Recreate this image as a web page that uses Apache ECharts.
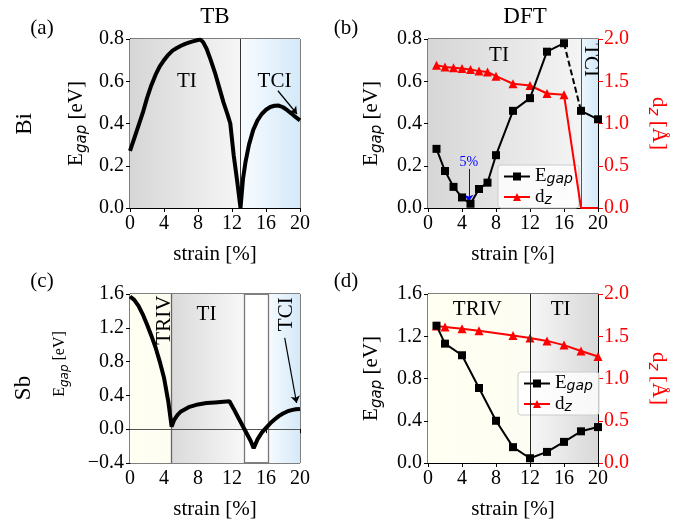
<!DOCTYPE html>
<html>
<head>
<meta charset="utf-8">
<script src="https://cdn.jsdelivr.net/npm/echarts@6/dist/echarts.min.js"></script>
<style>
  html, body { margin: 0; padding: 0; background: #fff; }
  #main { width: 692px; height: 526px; }
</style>
</head>
<body>
<div id="main"></div>
<script>
// (a) tight-binding gap, Bi
const strainTBBi = [0, 0.5, 1, 1.5, 2, 2.5, 3, 3.5, 4, 4.5, 5, 5.5, 6, 6.5, 7, 7.5, 8, 8.3, 8.6, 9, 9.5, 10, 10.5, 11, 11.5, 11.8, 12.2, 12.6, 13, 13.3, 13.6, 14, 14.5, 15, 15.5, 16, 16.5, 17, 17.5, 18, 18.5, 19, 19.5, 20]
const gapTBBi = [0.27, 0.33, 0.39, 0.45, 0.52, 0.58, 0.63, 0.67, 0.70, 0.725, 0.745, 0.757, 0.768, 0.777, 0.784, 0.79, 0.795, 0.797, 0.785, 0.755, 0.70, 0.64, 0.57, 0.50, 0.44, 0.40, 0.25, 0.13, 0.0, 0.14, 0.22, 0.30, 0.37, 0.415, 0.445, 0.465, 0.478, 0.484, 0.485, 0.477, 0.463, 0.447, 0.43, 0.415]

// (b) DFT, Bi
const strainDFTBi = [1, 2, 3, 4, 5, 6, 7, 8, 10, 12, 14, 16, 18, 20]
const gapDFTBi = [0.28, 0.175, 0.10, 0.05, 0.02, 0.09, 0.12, 0.25, 0.46, 0.52, 0.74, 0.78, 0.46, 0.42]
const dzDFTBi = [1.69, 1.67, 1.66, 1.65, 1.64, 1.62, 1.61, 1.56, 1.47, 1.45, 1.355, 1.34, 0, 0]

// (c) tight-binding gap, Sb
const strainTBSb = [0, 0.5, 1, 1.5, 2, 2.5, 3, 3.5, 4, 4.5, 4.9, 5.2, 5.6, 6, 7, 8, 9, 10, 11, 11.7, 12.2, 12.7, 13.2, 13.7, 14.2, 14.55, 15, 15.5, 16, 16.5, 17, 17.5, 18, 18.5, 19, 19.5, 20]
const gapTBSb = [1.57, 1.53, 1.46, 1.36, 1.24, 1.11, 0.97, 0.80, 0.61, 0.33, 0.03, 0.11, 0.17, 0.21, 0.265, 0.293, 0.309, 0.317, 0.325, 0.33, 0.24, 0.145, 0.05, -0.045, -0.14, -0.225, -0.12, -0.04, 0.016, 0.07, 0.115, 0.155, 0.186, 0.21, 0.226, 0.236, 0.24]

// (d) DFT, Sb
const strainDFTSb = [1, 2, 4, 6, 8, 10, 12, 14, 16, 18, 20]
const gapDFTSb = [1.30, 1.13, 1.02, 0.71, 0.40, 0.15, 0.045, 0.105, 0.20, 0.30, 0.34]
const strainDzSb = [1, 2, 4, 6, 10, 12, 14, 16, 18, 20]
const dzDFTSb = [1.62, 1.61, 1.59, 1.565, 1.51, 1.48, 1.445, 1.395, 1.325, 1.26]

const SERIF = 'Liberation Serif'
const zip = (xs, ys) => xs.map((x, i) => [x, ys[i]])
const grad = (c0, c1) => new echarts.graphic.LinearGradient(0, 0, 1, 0, [{ offset: 0, color: c0 }, { offset: 1, color: c1 }])
const fmt = v => (v < 0 ? '\u2212' + Math.abs(v).toFixed(1) : v.toFixed(1))

const chart = echarts.init(document.getElementById('main'))

const grids = [
    { left: 130, top: 39, width: 170, height: 169 },
    { left: 428, top: 39, width: 170, height: 169 },
    { left: 130, top: 294, width: 170, height: 169 },
    { left: 428, top: 294, width: 170, height: 169 }
].map(g => Object.assign(g, { show: true, borderColor: '#000', borderWidth: 1, backgroundColor: 'transparent' }))

const richName = (size, color) => ({
    e: { fontFamily: SERIF, fontSize: size, color: color, lineHeight: size + 6 },
    s: { fontFamily: 'DejaVu Sans', fontStyle: 'italic', fontSize: Math.round(size * 0.72), color: color, lineHeight: 10, verticalAlign: 'bottom' }
})

const xAxes = [0, 1, 2, 3].map(i => ({
    type: 'value', gridIndex: i, min: 0, max: 20, interval: 4,
    name: 'strain [%]', nameLocation: 'middle', nameGap: 36,
    nameTextStyle: { fontFamily: SERIF, fontSize: 21, color: '#000' },
    axisLine: { lineStyle: { color: '#000', width: 1 } },
    axisTick: { length: 4, lineStyle: { color: '#000' } },
    axisLabel: { fontFamily: SERIF, fontSize: 20, color: '#000', margin: 6 },
    splitLine: { show: false }
}))

const leftY = (grid, min, max, interval, nameSize, gap) => ({
    type: 'value', gridIndex: grid, min: min, max: max, interval: interval,
    name: nameSize ? '{e|E}{s|gap}{e| [eV]}' : '', nameLocation: 'middle', nameGap: gap, nameRotate: 90,
    nameTextStyle: { rich: richName(nameSize || 20, '#000') },
    axisLine: { show: true, lineStyle: { color: '#000', width: 1 } },
    axisTick: { show: true, length: 4, lineStyle: { color: '#000' } },
    axisLabel: { fontFamily: SERIF, fontSize: 20, color: '#000', margin: 6, formatter: fmt },
    splitLine: { show: false }
})

const rightY = grid => ({
    type: 'value', gridIndex: grid, position: 'right', min: 0, max: 2, interval: 0.5,
    name: '{e|d}{s|z}{e| [\u00c5]}', nameLocation: 'middle', nameGap: 47, nameRotate: -90,
    nameTextStyle: { rich: richName(21, '#ff0000') },
    axisLine: { show: true, lineStyle: { color: '#000', width: 1 } },
    axisTick: { show: true, length: 5, lineStyle: { color: '#ff0000' } },
    axisLabel: { fontFamily: SERIF, fontSize: 20, color: '#ff0000', margin: 6, formatter: fmt },
    splitLine: { show: false }
})

const yAxes = [
    leftY(0, 0, 0.8, 0.2, 21, 40),
    leftY(1, 0, 0.8, 0.2, 21, 43),
    rightY(1),
    leftY(2, -0.4, 1.6, 0.4, 0, 0),   // its smaller name is drawn as a graphic below
    leftY(3, 0, 1.6, 0.4, 21, 43),
    rightY(3)
]

const vline = (x, color, w) => ({ xAxis: x, symbol: 'none', lineStyle: { color: color, width: w || 1, type: 'solid' } })
const arrow = (p0, p1, color, w) => [{ coord: p0, symbol: 'none', lineStyle: { color: color, width: w, type: 'solid' } }, { coord: p1, symbol: 'arrow' }]
const area = (x0, x1, c) => [{ xAxis: x0, itemStyle: { color: c } }, { xAxis: x1 }]

const bg = (xi, yi, areas, lines) => ({
    type: 'line', xAxisIndex: xi, yAxisIndex: yi, data: [], silent: true, z: 1,
    markArea: { silent: true, data: areas },
    markLine: { silent: true, symbol: 'none', symbolSize: 7, label: { show: false }, data: lines }
})

const tbLine = (xi, yi, xs, ys) => ({
    type: 'line', xAxisIndex: xi, yAxisIndex: yi, data: zip(xs, ys), showSymbol: false, z: 5,
    lineStyle: { color: '#000', width: 4 }, itemStyle: { color: '#000' }
})

const gapStyle = { symbol: 'rect', symbolSize: 8, lineStyle: { color: '#000', width: 2 }, itemStyle: { color: '#000' } }
const dzStyle = { symbol: 'triangle', symbolSize: 9, lineStyle: { color: '#ff0000', width: 2 }, itemStyle: { color: '#ff0000' } }

// panel (b): solid line up to 16 %, dashed jump 16 -> 18 %, solid after
const gapBSolid = zip(strainDFTBi, gapDFTBi)
gapBSolid.splice(12, 0, [17, '-'])

const series = [
    bg(0, 0, [area(0, 13, grad('#d6d6d6', '#f6f6f6')), area(13, 20, grad('#f8fcff', '#d4e9f8'))],
        [vline(13, '#333'), arrow([17.4, 0.555], [19.65, 0.445], '#000', 1.2)]),
    tbLine(0, 0, strainTBBi, gapTBBi),

    bg(1, 1, [area(0, 18, grad('#d6d6d6', '#f4f4f4')), area(18, 20, grad('#eef7fe', '#d4e9f8'))],
        [vline(18, '#555'), arrow([4.8, 0.185], [4.8, 0.03], '#0000ff', 1)]),
    Object.assign({ type: 'line', name: 'E_gap', xAxisIndex: 1, yAxisIndex: 1, data: gapBSolid, z: 5 }, gapStyle),
    { type: 'line', name: 'link', xAxisIndex: 1, yAxisIndex: 1, data: [[16, gapDFTBi[11]], [18, gapDFTBi[12]]], showSymbol: false, z: 4,
      lineStyle: { color: '#000', width: 2, type: [6, 3] } },
    Object.assign({ type: 'line', name: 'd_z', xAxisIndex: 1, yAxisIndex: 2, z: 4,
      data: zip(strainDFTBi, dzDFTBi).map(p => (p[1] === 0 ? { value: p, symbol: 'none' } : p)) }, dzStyle),

    bg(2, 3, [area(0, 4.9, grad('#fffff2', '#fefdf2')), area(4.9, 13.4, grad('#dadada', '#f8f8f8')), area(16.3, 20, grad('#f6fbff', '#d4e9f8'))],
        [vline(4.9, '#666', 1.3), vline(13.4, '#777', 1.3), vline(16.3, '#777', 1.3), { yAxis: 0, symbol: 'none', lineStyle: { color: '#555', width: 1.2, type: 'solid' } },
         arrow([18.2, 1.08], [19.6, 0.31], '#000', 1.2)]),
    tbLine(2, 3, strainTBSb, gapTBSb),

    bg(3, 4, [area(0, 12, grad('#fffff2', '#fefdf3')), area(12, 20, grad('#f7f7f7', '#d8d8d8'))],
        [vline(12, '#222')]),
    Object.assign({ type: 'line', name: 'E_gap', xAxisIndex: 3, yAxisIndex: 4, data: zip(strainDFTSb, gapDFTSb), z: 5 }, gapStyle),
    Object.assign({ type: 'line', name: 'd_z', xAxisIndex: 3, yAxisIndex: 5, data: zip(strainDzSb, dzDFTSb), z: 4 }, dzStyle)
]

const legendText = {
    fontFamily: SERIF, fontSize: 19, color: '#000',
    rich: {
        e: { fontFamily: SERIF, fontSize: 19, lineHeight: 20 },
        s: { fontFamily: 'DejaVu Sans', fontStyle: 'italic', fontSize: 14, lineHeight: 8, verticalAlign: 'bottom' }
    }
}
const legendBase = {
    data: ['E_gap', 'd_z'], orient: 'vertical', itemWidth: 26, itemHeight: 10, itemGap: 1,
    padding: [2, 6, 1, 5], backgroundColor: 'rgba(255,255,255,0.8)', borderColor: '#ccc', borderWidth: 1, borderRadius: 3,
    selectedMode: false, textStyle: legendText,
    formatter: name => (name === 'E_gap' ? '{e|E}{s|gap}' : '{e|d}{s|z}')
}

chart.setOption({
    animation: false,
    grid: grids,
    xAxis: xAxes,
    yAxis: yAxes,
    legend: [Object.assign({ left: 498, top: 165 }, legendBase), Object.assign({ left: 518, top: 372 }, legendBase)],
    series: series
})

// text annotations in data coordinates: [x axis, y axis, x, y, text, rotation, size, color]
const notes = [
    [0, 0, 6.7, 0.60, 'TI', 0, 21, '#000'],
    [0, 0, 17.0, 0.60, 'TCI', 0, 21, '#000'],
    [1, 1, 8.35, 0.72, 'TI', 0, 21, '#000'],
    [1, 1, 19.15, 0.70, 'TCI', -90, 21, '#000'],
    [1, 1, 4.8, 0.215, '5%', 0, 14, '#0000ff'],
    [2, 3, 4.1, 1.29, 'TRIV', 90, 21, '#000'],
    [2, 3, 9.0, 1.36, 'TI', 0, 21, '#000'],
    [2, 3, 18.4, 1.36, 'TCI', 90, 21, '#000'],
    [3, 4, 5.8, 1.45, 'TRIV', 0, 21, '#000'],
    [3, 4, 15.6, 1.45, 'TI', 0, 21, '#000']
]
const graphics = notes.map(n => {
    const p = chart.convertToPixel({ xAxisIndex: n[0], yAxisIndex: n[1] }, [n[2], n[3]])
    return { type: 'text', x: p[0], y: p[1], rotation: n[5] * Math.PI / 180, z: 10,
        style: { text: n[4], fontFamily: SERIF, fontSize: n[6], fill: n[7], textAlign: 'center', textVerticalAlign: 'middle' } }
})

const fixedText = [
    [215, 17, 'TB', 0, 23], [525, 17, 'DFT', 0, 23],
    [42, 28, '(a)', 0, 21], [346, 28, '(b)', 0, 21],
    [42, 281, '(c)', 0, 21], [346, 281, '(d)', 0, 21],
    [25, 124, 'Bi', 90, 23], [24, 388, 'Sb', 90, 23]
]
fixedText.forEach(t => graphics.push({ type: 'text', x: t[0], y: t[1], rotation: t[3] * Math.PI / 180,
    style: { text: t[2], fontFamily: SERIF, fontSize: t[4], fill: '#000', textAlign: 'center', textVerticalAlign: 'middle' } }))

// smaller E_gap label of panel (c)
graphics.push({ type: 'text', x: 60, y: 364, rotation: Math.PI / 2,
    style: { text: '{e|E}{s|gap}{e| [eV]}', rich: richName(16, '#000'), textAlign: 'center', textVerticalAlign: 'middle' } })

chart.setOption({ graphic: graphics })

window.addEventListener('resize', function () {
    chart.resize()
})
</script>
</body>
</html>
